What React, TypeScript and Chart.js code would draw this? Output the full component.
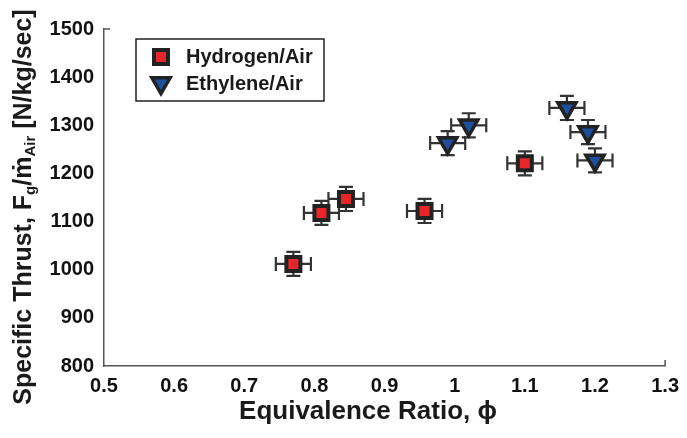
import React, { useEffect, useRef } from "react";
import { Chart, registerables } from "chart.js";

Chart.register(...registerables);

const hydrogenPhi = [0.77, 0.81, 0.845, 0.957, 1.1];
const hydrogenThrust = [1012, 1118, 1147, 1122, 1221];
const hydrogenPhiErr = [0.025, 0.025, 0.025, 0.025, 0.025];
const hydrogenThrustErr = [25, 25, 25, 25, 25];

const ethylenePhi = [0.99, 1.02, 1.16, 1.19, 1.2];
const ethyleneThrust = [1263, 1300, 1336, 1286, 1227];
const ethylenePhiErr = [0.025, 0.025, 0.025, 0.025, 0.025];
const ethyleneThrustErr = [25, 25, 25, 25, 25];

const seriesNames = ["Hydrogen/Air", "Ethylene/Air"];
const xTitle = "Equivalence Ratio, \u03D5";

const FONT = "'Liberation Sans', Arial, Helvetica, sans-serif";
const RED = "#e8262a";
const BLUE = "#1d4f9e";
const EDGE = "#222222";

function drawSquare(ctx: CanvasRenderingContext2D, x: number, y: number) {
  const s = 7;
  ctx.save();
  ctx.fillStyle = RED;
  ctx.strokeStyle = EDGE;
  ctx.lineWidth = 4;
  ctx.beginPath();
  ctx.rect(x - s, y - s, 2 * s, 2 * s);
  ctx.fill();
  ctx.stroke();
  ctx.restore();
}

function drawTriangle(ctx: CanvasRenderingContext2D, x: number, y: number) {
  const r = 10.5;
  ctx.save();
  ctx.fillStyle = BLUE;
  ctx.strokeStyle = EDGE;
  ctx.lineWidth = 3.5;
  ctx.lineJoin = "miter";
  ctx.beginPath();
  ctx.moveTo(x, y + r);
  ctx.lineTo(x - r * Math.sin(Math.PI / 3), y - r / 2);
  ctx.lineTo(x + r * Math.sin(Math.PI / 3), y - r / 2);
  ctx.closePath();
  ctx.fill();
  ctx.stroke();
  ctx.restore();
}

const errorBarPlugin = {
  id: "errorBars",
  beforeDatasetsDraw(chart: any) {
    const ctx: CanvasRenderingContext2D = chart.ctx;
    const xs = chart.scales.x;
    const ys = chart.scales.y;
    const sets = [
      [hydrogenPhi, hydrogenThrust, hydrogenPhiErr, hydrogenThrustErr],
      [ethylenePhi, ethyleneThrust, ethylenePhiErr, ethyleneThrustErr],
    ];
    ctx.save();
    ctx.strokeStyle = "#333333";
    ctx.lineWidth = 2.2;
    const cap = 7;
    sets.forEach(([px, py, ex, ey]) => {
      px.forEach((v: number, i: number) => {
        const cx = xs.getPixelForValue(v);
        const cy = ys.getPixelForValue(py[i]);
        const x0 = xs.getPixelForValue(v - ex[i]);
        const x1 = xs.getPixelForValue(v + ex[i]);
        const y0 = ys.getPixelForValue(py[i] - ey[i]);
        const y1 = ys.getPixelForValue(py[i] + ey[i]);
        ctx.beginPath();
        ctx.moveTo(x0, cy);
        ctx.lineTo(x1, cy);
        ctx.moveTo(x0, cy - cap);
        ctx.lineTo(x0, cy + cap);
        ctx.moveTo(x1, cy - cap);
        ctx.lineTo(x1, cy + cap);
        ctx.moveTo(cx, y0);
        ctx.lineTo(cx, y1);
        ctx.moveTo(cx - cap, y0);
        ctx.lineTo(cx + cap, y0);
        ctx.moveTo(cx - cap, y1);
        ctx.lineTo(cx + cap, y1);
        ctx.stroke();
      });
    });
    ctx.restore();
  },
};

const decorPlugin = {
  id: "decor",
  afterDraw(chart: any) {
    const ctx: CanvasRenderingContext2D = chart.ctx;
    const a = chart.chartArea;
    ctx.save();
    // end ticks
    ctx.strokeStyle = "#555555";
    ctx.lineWidth = 1.5;
    ctx.beginPath();
    ctx.moveTo(a.left, a.top);
    ctx.lineTo(a.left + 6, a.top);
    ctx.moveTo(a.right, a.bottom);
    ctx.lineTo(a.right, a.bottom - 6);
    ctx.stroke();

    // legend
    const lx = 136, ly = 39, lw = 188, lh = 62;
    ctx.fillStyle = "#ffffff";
    ctx.fillRect(lx, ly, lw, lh);
    ctx.strokeStyle = "#222222";
    ctx.lineWidth = 1.5;
    ctx.strokeRect(lx, ly, lw, lh);
    drawSquare(ctx, 161, 57);
    drawTriangle(ctx, 161, 83);
    ctx.fillStyle = "#1a1a1a";
    ctx.font = `bold 20px ${FONT}`;
    ctx.textBaseline = "middle";
    ctx.textAlign = "left";
    ctx.fillText(seriesNames[0], 186, 57);
    ctx.fillText(seriesNames[1], 186, 84);

    // x title
    ctx.font = `bold 26px ${FONT}`;
    ctx.textAlign = "center";
    ctx.textBaseline = "middle";
    ctx.fillText(xTitle, 368, 412);

    // y title with subscripts
    ctx.translate(24, 207);
    ctx.rotate(-Math.PI / 2);
    const big = `bold 25px ${FONT}`;
    const small = `bold 15px ${FONT}`;
    const parts: [string, string, number][] = [
      ["Specific Thrust, F", big, 0],
      ["g", small, 7],
      ["/\u1E41", big, 0],
      ["Air", small, 7],
      [" [N/kg/sec]", big, 0],
    ];
    let total = 0;
    parts.forEach(([t, f]) => {
      ctx.font = f;
      total += ctx.measureText(t).width;
    });
    let x = -total / 2;
    ctx.textAlign = "left";
    parts.forEach(([t, f, dy]) => {
      ctx.font = f;
      ctx.fillText(t, x, dy);
      x += ctx.measureText(t).width;
    });
    ctx.restore();
  },
};

export default function App() {
  const ref = useRef<HTMLCanvasElement>(null);
  useEffect(() => {
    if (!ref.current) return;
    const chart = new Chart(ref.current, {
      type: "scatter",
      data: {
        datasets: [
          {
            label: seriesNames[0],
            data: hydrogenPhi.map((x, i) => ({ x, y: hydrogenThrust[i] })),
            pointStyle: "rect",
            pointRadius: 9.9,
            pointHoverRadius: 9.9,
            backgroundColor: RED,
            borderColor: EDGE,
            borderWidth: 4,
          },
          {
            label: seriesNames[1],
            data: ethylenePhi.map((x, i) => ({ x, y: ethyleneThrust[i] })),
            pointStyle: "triangle",
            rotation: 180,
            pointRadius: 10.5,
            pointHoverRadius: 10.5,
            backgroundColor: BLUE,
            borderColor: EDGE,
            borderWidth: 3.5,
          },
        ],
      },
      options: {
        animation: false,
        responsive: false,
        maintainAspectRatio: false,
        layout: { padding: { top: 29, right: 16, left: 0, bottom: 0 } },
        plugins: {
          legend: { display: false },
          tooltip: { enabled: false },
        },
        scales: {
          x: {
            type: "linear",
            min: 0.5,
            max: 1.3,
            grid: { display: false, drawTicks: false },
            border: { display: true, color: "#555555", width: 1.5 },
            ticks: {
              stepSize: 0.1,
              padding: 8,
              color: "#111111",
              font: { family: FONT, size: 20, weight: "bold" },
              callback: (v: any) => String(Number(Number(v).toFixed(1))),
            },
            afterFit: (s: any) => {
              s.height = 72;
            },
          },
          y: {
            type: "linear",
            min: 800,
            max: 1500,
            grid: { display: false, drawTicks: false },
            border: { display: true, color: "#555555", width: 1.5 },
            ticks: {
              stepSize: 100,
              padding: 10,
              color: "#111111",
              font: { family: FONT, size: 20, weight: "bold" },
              callback: (v: any) => String(Math.round(Number(v))),
            },
            afterFit: (s: any) => {
              s.width = 104;
            },
          },
        },
      },
      plugins: [errorBarPlugin, decorPlugin],
    });
    return () => chart.destroy();
  }, []);
  return (
    <div style={{ position: "fixed", left: 0, top: 0, width: 687, height: 438, background: "#fff" }}>
      <canvas ref={ref} width={687} height={438} style={{ width: 687, height: 438 }} />
    </div>
  );
}
